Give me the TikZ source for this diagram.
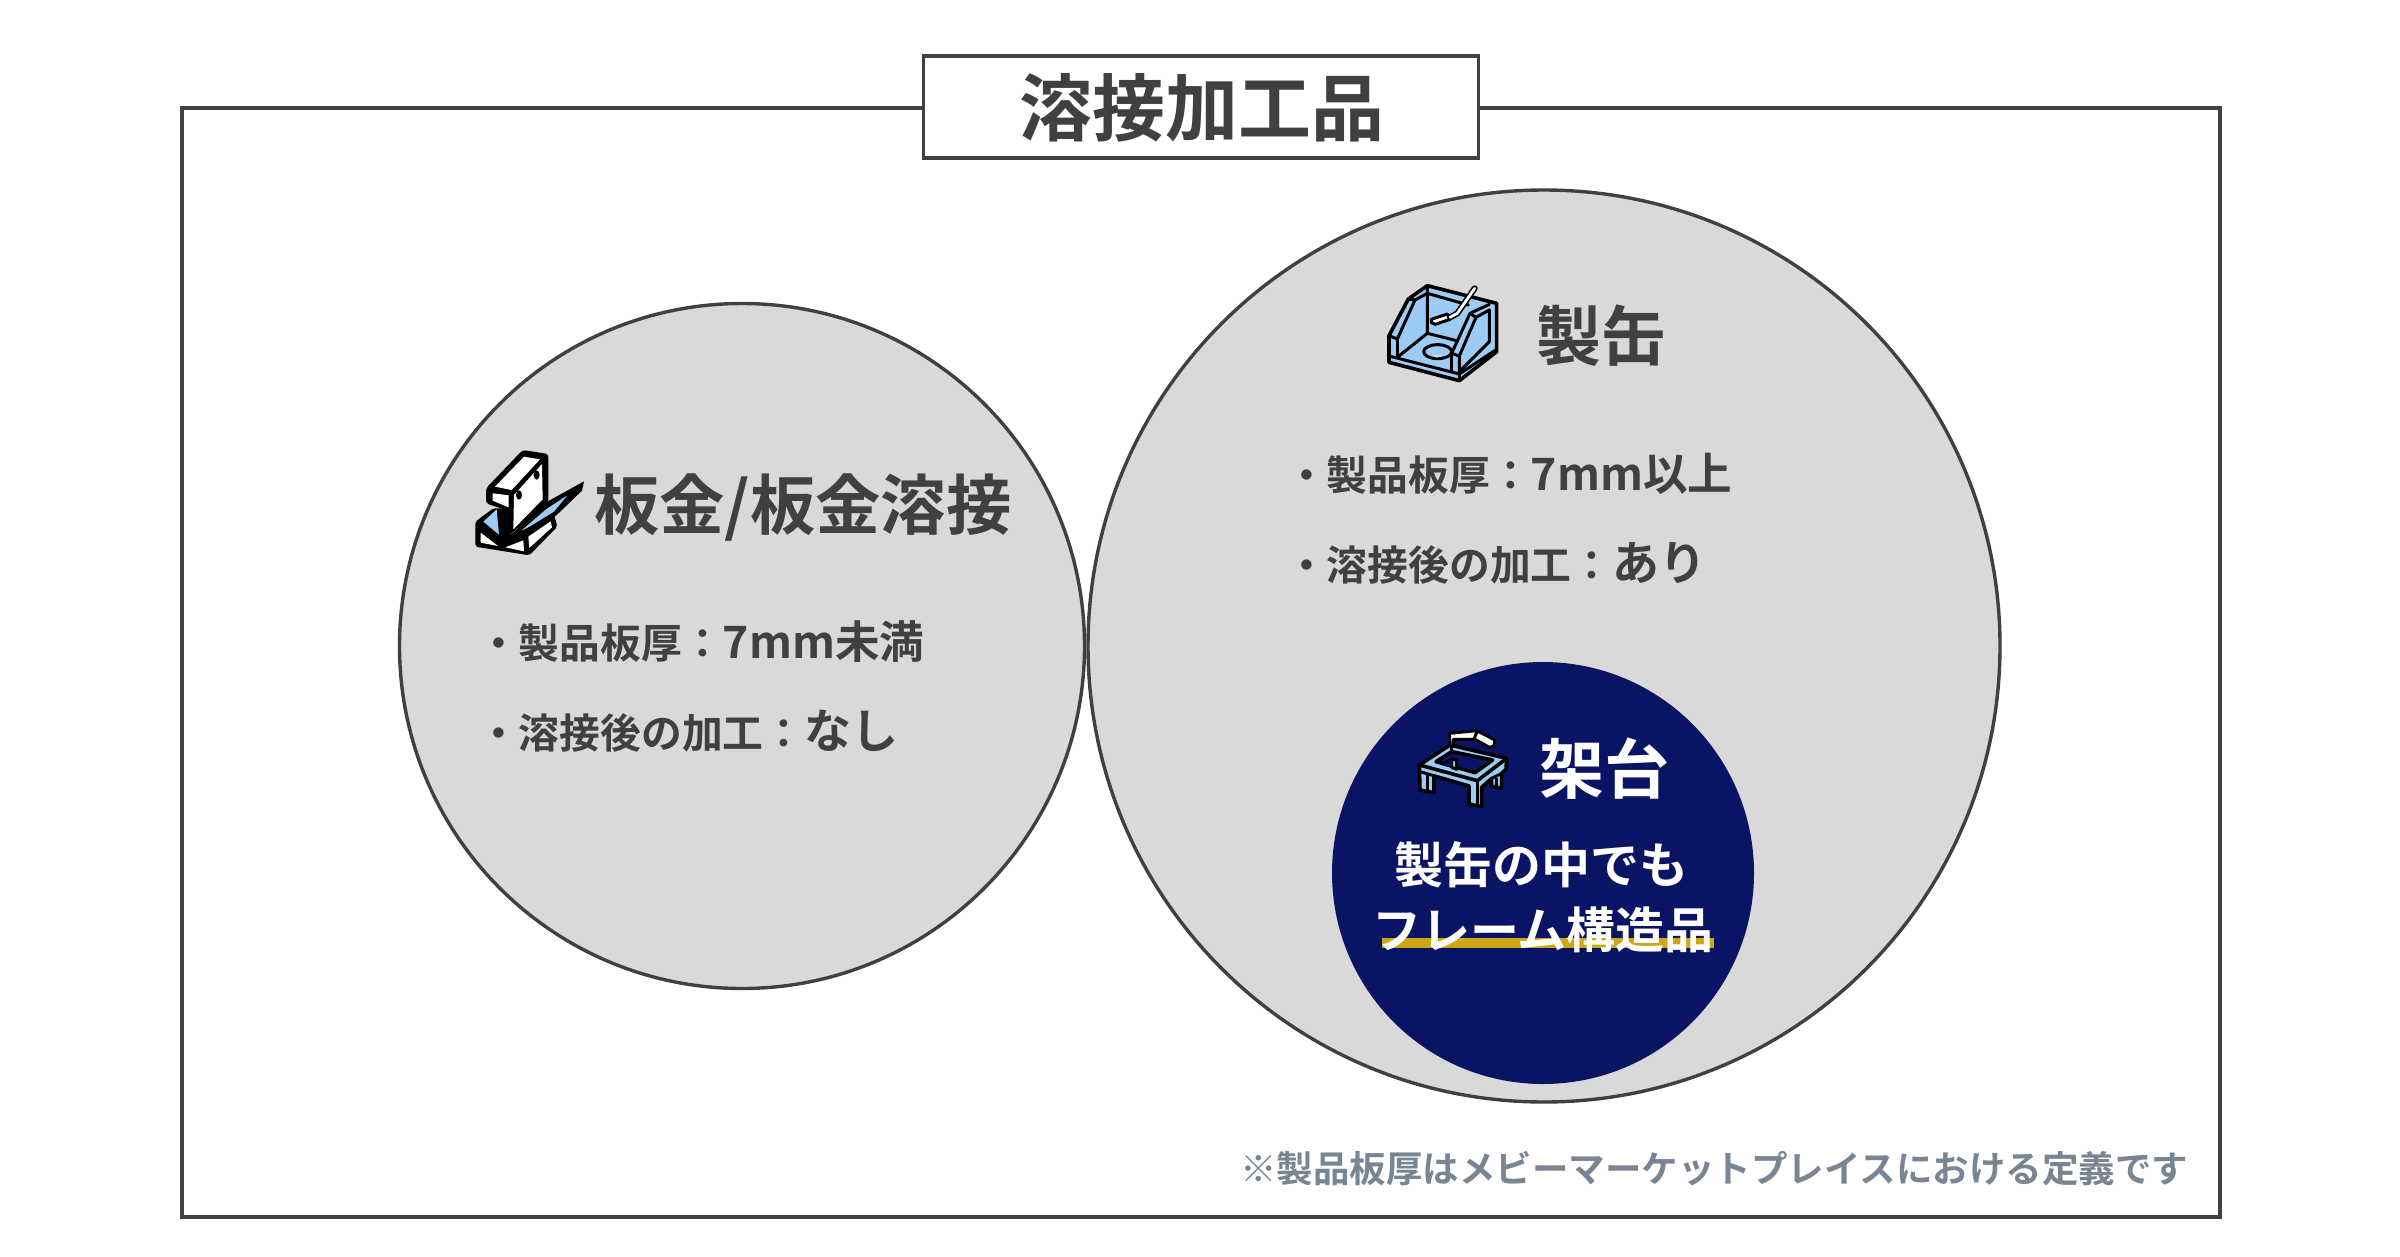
\documentclass[tikz,border=0pt]{standalone}
\usepackage{fontspec}
\setmainfont{Noto Sans CJK JP}[BoldFont={Noto Sans CJK JP Bold}]
\newfontfamily\jpb{Noto Sans CJK JP Bold}
\definecolor{ink}{HTML}{404040}
\definecolor{disc}{HTML}{D9D9D9}
\definecolor{navy}{HTML}{0A1464}
\definecolor{gold}{HTML}{CDA715}
\definecolor{sky}{HTML}{9CCBF4}
\definecolor{note}{HTML}{7A8594}
\newcommand{\fs}[1]{\fontsize{#1}{#1}\selectfont}
\tikzset{
  x=1pt,y=-1pt,
  outline/.style={draw=ink,line width=3.4pt},
  txt/.style={inner sep=0pt,outer sep=0pt,text=ink,font=\jpb},
  bodytxt/.style={txt,anchor=base west},
  icon/.style={draw=black,line width=3.6pt,line join=round,line cap=round},
  iconthin/.style={draw=black,line width=3pt,line join=round,line cap=round},
}
\begin{document}
\begin{tikzpicture}
\useasboundingbox (0,0) rectangle (2400,1256);
\fill[white] (0,0) rectangle (2400,1256);
\draw[outline,fill=white] (182,108) rectangle (2220,1217);
\node[outline,fill=white,minimum width=555pt,minimum height=102pt,inner sep=0pt,anchor=center] (titlebox) at (1201,107) {};
\node[txt,font=\jpb\fs{73}] (title) at (1202,108) {溶接加工品};

\node[outline,fill=disc,circle,minimum size=685pt,inner sep=0pt] (left) at (742,646) {};
\node[outline,fill=disc,circle,minimum size=912pt,inner sep=0pt] (big) at (1544,646) {};
\fill[navy] (1543,873) circle (211);

% icon 1
\begin{scope}[shift={(460,430)},x=0.3333pt,y=-0.3333pt]
  \fill[black,rounded corners=2pt] (46,275)--(100,235)--(140,235)--(140,320)--(280,245)--(292,290)--(208,376)--(46,350)--cycle;
  \fill[white] (62,308)--(114,348)--(62,338)--cycle;
  \fill[white] (136,352)--(190,331)--(192,364)--cycle;
  \fill[white] (205,320)--(272,274)--(276,292)--(208,354)--cycle;
  \fill[sky] (70,275)--(110,238)--(117,314)--cycle;
  \fill[black,rounded corners=3pt] (78,175)--(188,60)--(265,72)--(265,218)--(136,326)--(132,238)--(78,220)--cycle;
  \fill[white] (105,170)--(192,80)--(240,88)--(155,180)--cycle;
  \fill[white] (98,190)--(146,196)--(146,232)--(98,212)--cycle;
  \fill[white] (162,195)--(246,102)--(248,208)--(160,298)--cycle;
  \fill[black] (177,195) ellipse (9 and 14);
  \fill[black] (230,135) ellipse (9 and 14);
  \fill[black] (140,326)--(262,215)--(372,154)--(366,182)--(290,255)--(190,318)--cycle;
  \fill[sky] (183,303)--(258,238)--(322,196)--(282,245)--(205,292)--cycle;
\end{scope}

% icon 2
\begin{scope}[shift={(1370,270)},x=0.3333pt,y=-0.3333pt]
  \path[fill=sky,icon] (57,197)--(115,87)--(172,47)--(380,100)--(380,245)--(268,332)--(57,277)--cycle;
  \draw[iconthin] (57,197)--(82,207)--(135,90)--(172,70)--(172,47);
  \draw[iconthin] (115,87)--(135,90);
  \draw[iconthin] (82,207)--(82,262);
  \draw[iconthin] (57,258)--(268,312)--(380,238);
  \draw[iconthin] (268,312)--(268,332);
  \draw[iconthin] (245,250)--(245,305);
  \draw[iconthin] (268,312)--(268,258)--(245,250)--(300,130)--(358,103);
  \draw[iconthin] (268,258)--(318,142)--(358,120)--(358,215)--(268,305);
  \draw[iconthin] (300,130)--(318,142);
  \draw[iconthin] (172,70)--(172,190)--(82,262);
  \draw[iconthin] (172,190)--(260,212);
  \draw[iconthin] (172,70)--(295,105);
  \path[fill=sky,iconthin] (203,245) ellipse (42 and 21);
  \fill[disc!80!white] (186,256) -- (225,256) -- (238,250) -- (200,263) -- cycle;
  \path[fill=white,iconthin] (184,148)--(232,132)--(240,148)--(196,163)--(184,158)--cycle;
  \draw[black,line width=6pt,line cap=round,line join=round] (240,142)--(262,130)--(314,55);
  \draw[white,line width=2.8pt,line cap=round,line join=round] (240,142)--(262,130)--(314,55);
\end{scope}

% icon 3
\begin{scope}[shift={(1400,710)},x=0.3333pt,y=-0.3333pt]
  \path[fill=sky,icon] (58,165)--(150,105)--(320,145)--(318,178)--(305,190)--(305,235)--(275,228)--(275,205)--(245,232)--(245,290)--(207,282)--(207,228)--(102,198)--(102,248)--(60,240)--cycle;
  \draw[icon] (58,165)--(232,212)--(320,145);
  \draw[icon] (232,212)--(232,285);
  \draw[iconthin] (60,185)--(207,228);
  \draw[iconthin] (83,192)--(83,245);
  \draw[iconthin] (275,205)--(305,190);
  \draw[iconthin] (290,205)--(290,230);
  \draw[icon,fill=navy] (108,155)--(155,125)--(278,150)--(225,188)--cycle;
  \path[fill=sky,iconthin] (132,162)--(155,148)--(170,150)--(170,178)--(155,172)--(155,148);
  \path[fill=navy] (132,164)--(155,172)--(155,152)--cycle;
  \draw[iconthin] (155,100)--(155,125);
  \path[fill=white,iconthin] (150,108)--(148,70)--(230,62)--(285,90)--(282,108)--(268,112)--(225,88)--(160,88)--(160,108)--cycle;
  \draw[iconthin] (232,62)--(222,88);
\end{scope}

\fill[gold] (1382,938) rectangle (1714,948);

\node[txt,font=\jpb\fs{65.4},anchor=base west] (h1) at (594,529) {板金/板金溶接};
\node[bodytxt] (l1) at (478,658) {\fs{40.8}・製品板厚：\fs{44.6}7mm未満};
\node[bodytxt] (l2) at (478,748) {\fs{40.8}・溶接後の加工：\fs{47}なし};

\node[txt,font=\jpb\fs{65}] (h2) at (1601,336) {製缶};
\node[bodytxt] (r1) at (1286,490) {\fs{40.8}・製品板厚：\fs{44.6}7mm以上};
\node[bodytxt] (r2) at (1286,580) {\fs{40.8}・溶接後の加工：\fs{47}あり};

\node[txt,text=white,font=\jpb\fs{65}] (h3) at (1604,769) {架台};
\node[txt,text=white,font=\jpb\fs{49}] (n1) at (1541,865) {製缶の中でも};
\node[txt,text=white,font=\jpb\fs{49}] (n2) at (1543,930) {フレーム構造品};
\node[txt,text=note,font=\jpb\fs{36.5},anchor=east] (caption) at (2188,1169) {※製品板厚はメビーマーケットプレイスにおける定義です};
\end{tikzpicture}
\end{document}
